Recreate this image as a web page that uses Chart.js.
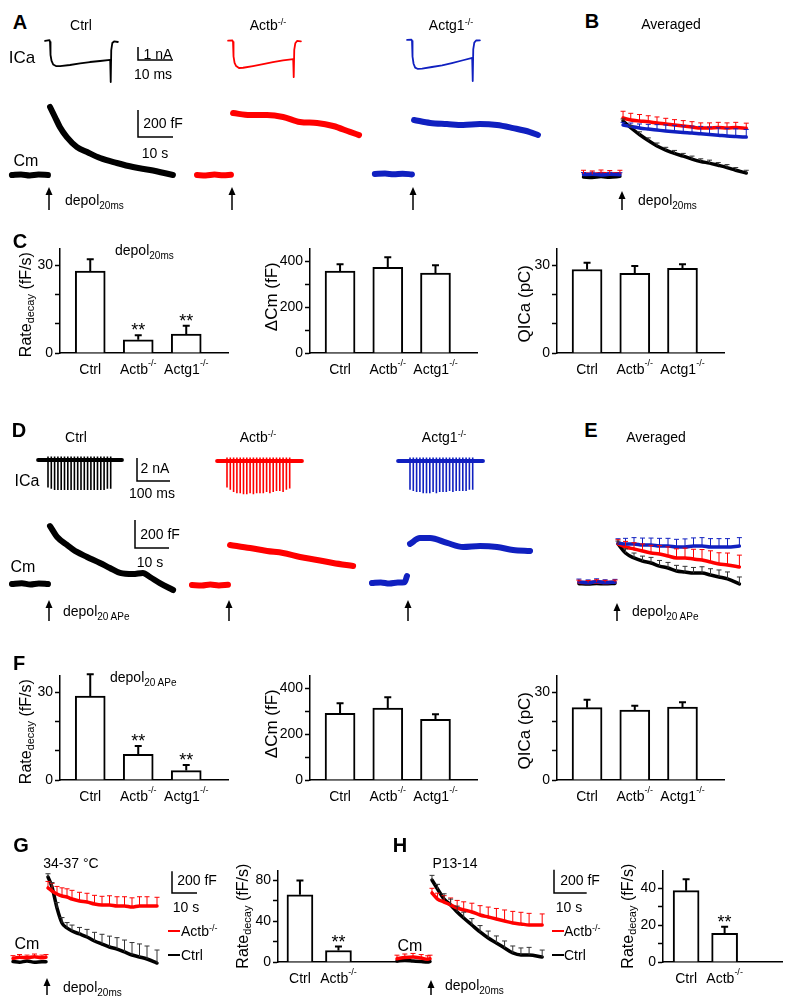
<!DOCTYPE html>
<html>
<head>
<meta charset="utf-8">
<script src="https://cdn.jsdelivr.net/npm/chart.js@4.4.0/dist/chart.umd.min.js"></script>
<style>
body{margin:0;background:#fff;}
#fig{position:relative;width:794px;height:1006px;overflow:hidden;font-family:"Liberation Sans",Arial,sans-serif;color:#000;}
#fig canvas{position:absolute;}
.t{position:absolute;white-space:nowrap;line-height:1;font-size:14px;transform:translate(-50%,-50%);}
.t.l{transform:translate(0,-50%);}
.t.p{font-weight:bold;font-size:20px;}
.t sup{font-size:9px;line-height:0;vertical-align:0.6em;}
.t sub{font-size:10px;line-height:0;vertical-align:-0.35em;}
.sw{position:absolute;height:2px;width:12px;}
</style>
</head>
<body>
<div id="fig"></div>
<script>
const FONT='"Liberation Sans", Arial, sans-serif';
const RED='#ff0000', BLUE='#1020c0', BLACK='#000000';

// ---------- A: ICa, 20 ms step (ms, nA) ----------
const icaT     =[-1.4,-0.15,0,0.15,0.45,0.9,1.7,2.9,5.7,8.6,11.4,14.3,17.2,17.35,17.5,17.8,18.3,19.4];
const icaCtrl  =[0.08,0.15,0,-1.0,-1.46,-1.73,-1.85,-1.85,-1.77,-1.65,-1.54,-1.46,-1.38,-3.08,-0.62,-0.08,0.04,0];
const icaActb  =[0.1,0.12,0,-1.1,-1.6,-1.85,-2.0,-1.98,-1.85,-1.7,-1.55,-1.42,-1.31,-2.7,-0.6,-0.1,0.08,0.05];
const icaActg1 =[0.08,0.1,0,-1.2,-1.75,-2.05,-2.15,-2.12,-2.0,-1.88,-1.7,-1.5,-1.3,-3.08,-0.65,-0.12,0.04,0.05];

// ---------- A: Cm single cells (s, fF) ----------
const aCtrlPreT=[-10.6,-8,-5.5,-3,-0.3],  aCtrlPre=[0,4,-3,3,0];
const aCtrlT=[0.3,1.7,3.1,5.1,8,10.9,14.6,19.4,24,28.9,35.4];
const aCtrl =[504,430,356,281,207,170,126,89,59,37,0];
const aActbPreT=[-10,-7.5,-5,-2.5,-0.3],  aActbPre=[0,-3,3,-2,2];
const aActbT=[0.3,5.1,10,14.6,19.4,24.3,28.9,33.7,36.3];
const aActb =[459,444,444,430,393,385,363,319,296];
const aActg1PreT=[-10.9,-8,-5.5,-3,-0.3], aActg1Pre=[0,3,-2,2,-3];
const aActg1T=[0.3,4.9,9.7,14.3,19.1,24,28.6,33.4,35.7];
const aActg1 =[400,378,370,363,370,363,340,311,289];

// ---------- B: averaged (s, fF, mean + SEM) ----------
const bPreT=[-11,-8.5,-6,-3.5,-0.6];
const bPreRed=[10,5,12,8,10], bPreBlue=[3,6,0,5,2], bPreBlack=[-15,-18,-12,-16,-10];
const bPreRedErr=[25,25,25,25,25], bPreBlueErr=[15,15,15,15,15];
const bT=[0.3,2.5,5,7.5,10,12.5,15,17.5,20,22.5,25,27.5,30,32.5,35.5];
const bRed     =[422,407,400,394,385,378,370,363,355,348,348,352,348,352,346];
const bRedErr  =[50,50,48,45,45,42,40,40,40,38,38,38,38,38,38];
const bBlue    =[370,360,348,340,333,326,320,315,311,305,300,295,289,285,281];
const bBlueErr =[20,25,30,35,40,45,48,50,52,55,55,55,57,57,57];
const bBlack   =[400,350,300,255,215,185,160,140,118,100,88,72,55,35,15];
const bBlackErr=[15,18,20,20,22,20,22,20,22,20,22,20,22,20,20];

// ---------- C: bars, depol 20 ms ----------
const geno3=['Ctrl','Actb','Actg1'], sup3=['','-/-','-/-'];
const geno2=['Ctrl','Actb'], sup2=['','-/-'];
const rateC=[28.0,4.5,6.5], rateCErr=[4.0,1.6,2.8], rateCSig=['','**','**'];
const dcmC=[357,374,348], dcmCErr=[30,43,35];
const qC=[28.5,27.2,28.9], qCErr=[2.3,2.5,1.4];

// ---------- D: ICa trains, 20 APe (ms, nA) ----------
const apT=[0,10,20,30,40,50,60,70,80,90,100,110,120,130,140,150,160,170,180,190];
const apCtrl =[-2.4,-2.5,-2.6,-2.6,-2.6,-2.6,-2.6,-2.6,-2.6,-2.6,-2.6,-2.6,-2.6,-2.6,-2.6,-2.6,-2.6,-2.6,-2.5,-2.5];
const apActb =[-2.3,-2.5,-2.7,-2.8,-2.8,-2.9,-2.9,-2.8,-2.9,-2.8,-2.8,-2.8,-2.7,-2.8,-2.7,-2.6,-2.6,-2.7,-2.5,-2.4];
const apActg1=[-2.5,-2.6,-2.7,-2.7,-2.8,-2.8,-2.8,-2.7,-2.8,-2.7,-2.7,-2.7,-2.6,-2.7,-2.6,-2.6,-2.6,-2.6,-2.5,-2.5];
const apSpanCtrl=[-30,224], apSpanActb=[-30,227], apSpanActg1=[-36,221];

// ---------- D: Cm single cells (s, fF) ----------
const dCtrlPreT=[-10.9,-8,-5.5,-3,-0.3], dCtrlPre=[0,5,-3,4,0];
const dCtrlT=[0.3,2.4,5.3,8.2,11.2,15,17.9,20.9,24.7,27.6,29.7,32.6,36.5];
const dCtrl =[414,336,279,229,193,150,114,79,71,79,50,7,-43];
const dActbPreT=[-10.9,-8,-5.5,-3,-0.3], dActbPre=[0,-4,3,-3,2];
const dActbT=[0.3,6.2,11.2,15.9,20.9,25.9,30.6,36.5];
const dActb =[286,264,243,229,200,179,157,136];
const dActg1PreT=[-10.6,-8,-5.5,-3,-1,-0.3], dActg1Pre=[0,4,-4,3,5,50];
const dActg1T=[0.6,3.5,6.5,11.5,16.2,21.2,26.2,30.9,35.9];
const dActg1 =[279,321,321,286,257,264,257,236,229];

// ---------- E: averaged (s, fF) ----------
const ePreT=[-11.2,-8.5,-6,-3.5,-0.6];
const ePreRed=[5,3,8,4,6], ePreBlue=[8,2,10,3,6], ePreBlack=[-5,-8,-4,-6,-3];
const ePreBlueErr=[20,20,20,20,20], ePreRedErr=[15,15,15,15,15];
const eT=[0.3,2.5,5,7.5,10,12.5,15,17.5,20,22.5,25,27.5,30,32.5,36];
const eBlue    =[286,279,279,271,271,264,264,257,257,264,264,257,257,257,264];
const eBlueErr =[30,40,45,50,50,55,55,55,58,58,60,60,60,60,60];
const eRed     =[279,257,243,229,214,207,193,179,179,171,164,150,136,129,114];
const eRedErr  =[30,40,45,50,55,60,65,65,70,70,75,80,80,85,85];
const eBlack   =[279,214,179,157,143,121,107,86,79,71,71,57,43,29,-7];
const eBlackErr=[20,30,35,35,40,40,40,40,40,40,45,45,50,50,50];

// ---------- F: bars, 20 APe ----------
const rateF=[28.6,8.8,3.2], rateFErr=[7.5,2.8,1.9], rateFSig=['','**','**'];
const dcmF=[291,313,265], dcmFErr=[44,48,22];
const qF=[24.7,23.9,24.9], qFErr=[2.7,1.4,1.6];

// ---------- G: 34-37 °C ----------
const gPreT=[-13.6,-11,-8,-5,-2,-0.4];
const gPreRed=[15,25,20,30,20,25], gPreRedErr=[25,25,25,25,25,25], gPreBlack=[-15,-20,-10,-20,-15,-15];
const gT=[0.4,2,4,6,8,10,13,16,19,22,25,28,31,34,37,40,44];
const gRed     =[664,636,608,590,581,562,544,535,516,507,507,498,498,488,498,498,498];
const gRedErr  =[60,70,70,75,75,80,80,80,80,80,85,85,85,85,85,85,80];
const gBlack   =[765,673,479,341,295,267,240,212,175,147,120,101,74,46,28,9,-28];
const gBlackErr=[30,40,50,50,50,55,60,70,80,90,100,105,110,115,120,120,120];
const rateG=[66,11.3], rateGErr=[14,3.9], rateGSig=['','**'];

// ---------- H: P13-14 ----------
const hPreT=[-10.4,-8,-5.5,-3,-1,-0.3];
const hPreRed=[20,30,35,25,15,20], hPreRedErr=[30,30,30,30,30,30], hPreBlack=[0,5,0,-5,-8,-5];
const hT=[0.3,2,4,6,8,10,12.5,15,17.5,20,22.5,25,27.5,30,34];
const hRed     =[584,532,506,481,455,438,421,395,378,361,343,326,318,309,309];
const hRedErr  =[40,50,55,60,65,70,75,80,85,90,95,100,100,100,95];
const hBlack   =[695,618,532,481,421,369,309,249,197,155,112,69,52,52,34];
const hBlackErr=[40,40,45,50,50,50,55,55,60,60,60,60,60,65,60];
const rateH=[38.7,15.5], rateHErr=[6.2,3.6], rateHSig=['','**'];

// axis ticks
const rateTicks=[0,10,20,30], rateTickLab=[0,30];
const dcmTicks=[0,100,200,300,400], dcmTickLab=[0,200,400];
const gTicks=[0,20,40,60,80], gTickLab=[0,40,80];
const hTicks=[0,10,20,30,40], hTickLab=[0,20,40];

Chart.defaults.font.family=FONT;
Chart.defaults.font.size=14;
Chart.defaults.color='#000';
Chart.defaults.animation=false;

const fig=document.getElementById('fig');
function place(cv,b){cv.width=b.w;cv.height=b.h;cv.style.left=b.l+'px';cv.style.top=b.t+'px';fig.appendChild(cv);}

function rich(ctx,segs,x,y){
  let w=0;
  segs.forEach(s=>{ctx.font=s[1]+'px '+FONT;w+=ctx.measureText(s[0]).width;});
  let cx=x-w/2;
  segs.forEach(s=>{ctx.font=s[1]+'px '+FONT;ctx.fillText(s[0],cx,y+s[2]);cx+=ctx.measureText(s[0]).width;});
}

// error bars, stars, category labels and y title for the bar charts
const barDeco={id:'barDeco',afterDatasetsDraw(ch,args,o){
  const ctx=ch.ctx, ys=ch.scales.y, xs=ch.scales.x, ds=ch.data.datasets[0], a=ch.chartArea;
  ctx.save();
  ctx.strokeStyle='#000';ctx.fillStyle='#000';ctx.lineWidth=2;
  ch.getDatasetMeta(0).data.forEach((b,i)=>{
    const v=ds.data[i].y, ye=ys.getPixelForValue(v+ds.err[i]);
    ctx.beginPath();ctx.moveTo(b.x,b.y);ctx.lineTo(b.x,ye);ctx.moveTo(b.x-3.5,ye);ctx.lineTo(b.x+3.5,ye);ctx.stroke();
    if(ds.sig&&ds.sig[i]){ctx.font='18px '+FONT;ctx.textAlign='center';ctx.textBaseline='alphabetic';ctx.fillText(ds.sig[i],b.x,ye+1);}
  });
  ctx.textAlign='left';ctx.textBaseline='middle';
  o.cats.forEach((c,i)=>rich(ctx,[[c,14,0],[o.sups[i],9,-6]],xs.getPixelForValue(i+1),a.bottom+17));
  ctx.translate(a.left-o.tdx,(a.top+a.bottom)/2+o.tdy);
  ctx.rotate(-Math.PI/2);
  rich(ctx,o.title,0,0);
  ctx.restore();
}};

function bars(L,cats,sups,vals,errs,sig,ticks,tickLab,ymax,title,bw){
  const cv=document.createElement('canvas');
  const left=L.ax-60, top=L.top-10;
  place(cv,{l:left,t:top,w:L.right-left+4,h:L.bot-top+32});
  new Chart(cv,{type:'bar',
    data:{datasets:[{data:vals.map((v,i)=>({x:i+1,y:v})),backgroundColor:'#fff',borderColor:'#000',borderWidth:2,barThickness:bw,err:errs,sig:sig}]},
    plugins:[barDeco],
    options:{responsive:false,events:[],layout:{padding:{top:10,right:4,left:0,bottom:0}},
      scales:{
        x:{type:'linear',offset:false,bounds:'data',min:L.lo,max:L.hi,grid:{display:false,offset:false},ticks:{display:false},
           border:{color:'#000',width:1.5},afterFit:s=>{s.height=32;},
           afterDataLimits:s=>{s.min=L.lo;s.max=L.hi;}},
        y:{min:0,max:ymax,afterFit:s=>{s.width=60;},afterBuildTicks:s=>{s.ticks=ticks.map(v=>({value:v}));},
          ticks:{padding:2,color:'#000',font:{size:14},callback:v=>tickLab.includes(v)?String(v):''},
          grid:{drawOnChartArea:false,tickLength:5,tickWidth:1.5,tickColor:'#000'},border:{color:'#000',width:1.5}}},
      plugins:{legend:{display:false},tooltip:{enabled:false},barDeco:{cats,sups,title,tdx:L.tdx,tdy:L.tdy}}}});
}

// error bars, scale bar and stimulus arrow for the traces
const traceDeco={id:'traceDeco',afterDatasetsDraw(ch,args,o){
  const ctx=ch.ctx, xs=ch.scales.x, ys=ch.scales.y;
  ctx.save();
  ch.data.datasets.forEach(ds=>{
    if(!ds.err) return;
    ctx.strokeStyle=ds.errColor||ds.borderColor;ctx.lineWidth=1;
    ds.data.forEach((p,i)=>{
      if(!ds.err[i]) return;
      const x=xs.getPixelForValue(p.x), y=ys.getPixelForValue(p.y), ye=ys.getPixelForValue(p.y+ds.err[i]);
      ctx.beginPath();ctx.moveTo(x,y);ctx.lineTo(x,ye);ctx.moveTo(x-2.5,ye);ctx.lineTo(x+2.5,ye);ctx.stroke();
    });
  });
  ctx.strokeStyle='#000';ctx.fillStyle='#000';ctx.lineWidth=1.5;
  if(o.sb){
    const x0=xs.getPixelForValue(o.sb.t), y0=ys.getPixelForValue(o.sb.v);
    ctx.beginPath();
    ctx.moveTo(x0,ys.getPixelForValue(o.sb.v+o.sb.dv));ctx.lineTo(x0,y0);ctx.lineTo(xs.getPixelForValue(o.sb.t+o.sb.dt),y0);
    ctx.stroke();
  }
  if(o.arrow){
    const x=xs.getPixelForValue(0);
    ctx.beginPath();ctx.moveTo(x,o.arrow.y2);ctx.lineTo(x,o.arrow.y1+6);ctx.stroke();
    ctx.beginPath();ctx.moveTo(x,o.arrow.y1);ctx.lineTo(x-3.5,o.arrow.y1+8);ctx.lineTo(x+3.5,o.arrow.y1+8);ctx.closePath();ctx.fill();
  }
  ctx.restore();
}};

function trace(box,org,sc,datasets,deco){
  deco=deco||{};
  const o={};
  if(deco.sb) o.sb={t:(deco.sb.x-org.x)/sc.x,v:(org.y-deco.sb.y)/sc.y,dt:deco.sb.dt,dv:deco.sb.dv};
  if(deco.arrow) o.arrow={y1:deco.arrow[0]-box.t,y2:deco.arrow[1]-box.t};
  const cv=document.createElement('canvas');place(cv,box);
  new Chart(cv,{type:'line',data:{datasets},plugins:[traceDeco],
    options:{responsive:false,events:[],layout:{padding:0},
      scales:{x:{type:'linear',display:false,min:(box.l-org.x)/sc.x,max:(box.l+box.w-org.x)/sc.x},
              y:{type:'linear',display:false,min:(org.y-box.t-box.h)/sc.y,max:(org.y-box.t)/sc.y}},
      plugins:{legend:{display:false},tooltip:{enabled:false},traceDeco:o}}});
}

function ln(ts,vs,color,w,err,sharp){
  return {data:ts.map((t,i)=>({x:t,y:vs[i]})),borderColor:color,borderWidth:w,pointRadius:0,
    tension:sharp?0:0.3,cubicInterpolationMode:sharp?'default':'monotone',
    borderJoinStyle:'round',borderCapStyle:'round',clip:false,err:err||null,errColor:color===BLACK?'#333':color};
}
function train(ts,amps,color){
  const d=[];
  ts.forEach((t,i)=>{d.push({x:t,y:0.3},{x:t,y:amps[i]},{x:t,y:null});});
  return {data:d,borderColor:color,borderWidth:1.6,pointRadius:0,tension:0,clip:false,spanGaps:false};
}

// ---------- panel A ----------
const icaSc={x:3.5,y:13};
trace({l:30,t:30,w:160,h:60},{x:50,y:42},icaSc,[ln(icaT,icaCtrl,BLACK,1.8,null,true)],{sb:{x:138,y:60,dt:10,dv:1}});
trace({l:215,t:30,w:100,h:60},{x:233,y:42},icaSc,[ln(icaT,icaActb,RED,1.8,null,true)]);
trace({l:395,t:30,w:100,h:60},{x:412,y:41},icaSc,[ln(icaT,icaActg1,BLUE,1.8,null,true)]);

const cmAsc={x:3.5,y:0.135};
trace({l:0,t:95,w:195,h:118},{x:49,y:175},cmAsc,[ln(aCtrlPreT,aCtrlPre,BLACK,6),ln(aCtrlT,aCtrl,BLACK,6)],{sb:{x:138,y:137,dt:10,dv:200},arrow:[187,210]});
trace({l:190,t:95,w:185,h:118},{x:232,y:175},cmAsc,[ln(aActbPreT,aActbPre,RED,6),ln(aActbT,aActb,RED,6)],{arrow:[187,210]});
trace({l:370,t:95,w:185,h:118},{x:413,y:174},cmAsc,[ln(aActg1PreT,aActg1Pre,BLUE,6),ln(aActg1T,aActg1,BLUE,6)],{arrow:[187,210]});

// ---------- panel B ----------
trace({l:575,t:95,w:190,h:118},{x:622,y:175},cmAsc,[
  ln(bPreT,bPreBlue,BLUE,3.5,bPreBlueErr),ln(bPreT,bPreRed,RED,3.5,bPreRedErr),ln(bPreT,bPreBlack,BLACK,3.5),
  ln(bT,bBlue,BLUE,3.5,bBlueErr),ln(bT,bRed,RED,3.5,bRedErr),ln(bT,bBlack,BLACK,3.5,bBlackErr)],{arrow:[191,210]});

// ---------- panel C ----------
const rateTitle=[['Rate',16,0],['decay',11,4],[' (fF/s)',16,0]];
const dcmTitle=[['\u0394Cm (fF)',17,0]];
const qTitle=[['QICa (pC)',17,0]];
bars({ax:60,top:248,bot:353,right:228,lo:0.37,hi:3.87,tdx:33,tdy:4},geno3,sup3,rateC,rateCErr,rateCSig,rateTicks,rateTickLab,35.7,rateTitle,30);
bars({ax:310,top:248,bot:353,right:477,lo:0.37,hi:3.87,tdx:38,tdy:-4},geno3,sup3,dcmC,dcmCErr,null,dcmTicks,dcmTickLab,456,dcmTitle,30);
bars({ax:557,top:248,bot:353,right:724,lo:0.37,hi:3.87,tdx:32,tdy:3},geno3,sup3,qC,qCErr,null,rateTicks,rateTickLab,35.7,qTitle,30);

// ---------- panel D ----------
const apSc={x:0.33,y:11.5};
trace({l:30,t:440,w:160,h:60},{x:48,y:460},apSc,[ln(apSpanCtrl,[0,0],BLACK,4,null,true),train(apT,apCtrl,BLACK)],{sb:{x:137,y:481,dt:100,dv:2}});
trace({l:205,t:440,w:110,h:60},{x:227,y:461},apSc,[ln(apSpanActb,[0,0],RED,4,null,true),train(apT,apActb,RED)]);
trace({l:385,t:440,w:110,h:60},{x:410,y:461},apSc,[ln(apSpanActg1,[0,0],BLUE,4,null,true),train(apT,apActg1,BLUE)]);

const cmDsc={x:3.4,y:0.14};
trace({l:0,t:500,w:190,h:125},{x:49,y:584},cmDsc,[ln(dCtrlPreT,dCtrlPre,BLACK,6),ln(dCtrlT,dCtrl,BLACK,6)],{sb:{x:135,y:548,dt:10,dv:200},arrow:[600,621]});
trace({l:185,t:500,w:185,h:125},{x:229,y:585},cmDsc,[ln(dActbPreT,dActbPre,RED,6),ln(dActbT,dActb,RED,6)],{arrow:[600,621]});
trace({l:365,t:500,w:185,h:125},{x:408,y:583},cmDsc,[ln(dActg1PreT,dActg1Pre,BLUE,6),ln(dActg1T,dActg1,BLUE,6)],{arrow:[600,621]});

// ---------- panel E ----------
trace({l:570,t:500,w:190,h:125},{x:617,y:583},cmDsc,[
  ln(ePreT,ePreBlue,BLUE,3.5,ePreBlueErr),ln(ePreT,ePreRed,RED,3.5,ePreRedErr),ln(ePreT,ePreBlack,BLACK,3.5),
  ln(eT,eBlue,BLUE,3.5,eBlueErr),ln(eT,eRed,RED,3.5,eRedErr),ln(eT,eBlack,BLACK,3.5,eBlackErr)],{arrow:[603,621]});

// ---------- panel F ----------
bars({ax:60,top:675,bot:780,right:228,lo:0.37,hi:3.87,tdx:33,tdy:4},geno3,sup3,rateF,rateFErr,rateFSig,rateTicks,rateTickLab,35.7,rateTitle,30);
bars({ax:310,top:675,bot:780,right:477,lo:0.37,hi:3.87,tdx:38,tdy:-4},geno3,sup3,dcmF,dcmFErr,null,dcmTicks,dcmTickLab,456,dcmTitle,30);
bars({ax:557,top:675,bot:780,right:724,lo:0.37,hi:3.87,tdx:32,tdy:3},geno3,sup3,qF,qFErr,null,rateTicks,rateTickLab,35.7,qTitle,30);

// ---------- panel G ----------
trace({l:0,t:855,w:230,h:145},{x:47,y:960},{x:2.5,y:0.1085},[
  ln(gPreT,gPreRed,RED,3.5,gPreRedErr),ln(gPreT,gPreBlack,BLACK,3.5),
  ln(gT,gRed,RED,3.5,gRedErr),ln(gT,gBlack,BLACK,3.5,gBlackErr)],{sb:{x:172,y:893,dt:10,dv:200},arrow:[978,995]});
bars({ax:278,top:870,bot:962,right:397,lo:0.43,hi:3.52,tdx:34,tdy:0},geno2,sup2,rateG,rateGErr,rateGSig,gTicks,gTickLab,90,rateTitle,26);

// ---------- panel H ----------
trace({l:380,t:855,w:230,h:145},{x:431,y:961},{x:3.27,y:0.1165},[
  ln(hPreT,hPreRed,RED,3.5,hPreRedErr),ln(hPreT,hPreBlack,BLACK,3.5),
  ln(hT,hRed,RED,3.5,hRedErr),ln(hT,hBlack,BLACK,3.5,hBlackErr)],{sb:{x:554,y:893,dt:10,dv:200},arrow:[980,995]});
bars({ax:663,top:870,bot:962,right:782,lo:0.40,hi:3.49,tdx:34,tdy:0},geno2,sup2,rateH,rateHErr,rateHSig,hTicks,hTickLab,49.7,rateTitle,26);

// ---------- text ----------
const texts=[
 ['A',20,22,'p'],['B',592,21,'p'],['C',20,241,'p'],['D',19,430,'p'],['E',591,430,'p'],['F',19,663,'p'],['G',21,845,'p'],['H',400,845,'p'],
 ['Ctrl',81,25],['Actb<sup>-/-</sup>',268,25],['Actg1<sup>-/-</sup>',451,25],['Averaged',671,24],
 ['ICa',22,57,'',17],['Cm',26,161,'',16],
 ['1 nA',158,54],['10 ms',153,74],['200 fF',163,123],['10 s',155,153],
 ['depol<sub>20ms</sub>',65,200,'l'],['depol<sub>20ms</sub>',638,200,'l'],['depol<sub>20ms</sub>',115,250,'l'],
 ['Ctrl',76,437],['Actb<sup>-/-</sup>',258,437],['Actg1<sup>-/-</sup>',444,437],['Averaged',656,437],
 ['ICa',27,481,'',16],['Cm',23,567,'',16],
 ['2 nA',155,468],['100 ms',152,493],['200 fF',160,534],['10 s',150,562],
 ['depol<sub>20 APe</sub>',63,611,'l'],['depol<sub>20 APe</sub>',632,611,'l'],['depol<sub>20 APe</sub>',110,677,'l'],
 ['34-37 °C',71,863],['200 fF',197,880],['10 s',186,907],['Actb<sup>-/-</sup>',181,931,'l'],['Ctrl',181,955,'l'],['Cm',27,944,'',16],['depol<sub>20ms</sub>',63,987,'l'],
 ['P13-14',455,863],['200 fF',580,880],['10 s',569,907],['Actb<sup>-/-</sup>',564,931,'l'],['Ctrl',564,955,'l'],['Cm',410,946,'',16],['depol<sub>20ms</sub>',445,985,'l']
];
texts.forEach(([h,x,y,cls,size])=>{
  const d=document.createElement('div');
  d.className='t '+(cls||'');d.innerHTML=h;d.style.left=x+'px';d.style.top=y+'px';
  if(size) d.style.fontSize=size+'px';
  fig.appendChild(d);
});
// legend swatches for G and H
[[168,931,RED],[168,955,BLACK],[552,931,RED],[552,955,BLACK]].forEach(([x,y,c])=>{
  const s=document.createElement('div');s.className='sw';s.style.left=x+'px';s.style.top=(y-1)+'px';s.style.background=c;fig.appendChild(s);
});
</script>
</body>
</html>
